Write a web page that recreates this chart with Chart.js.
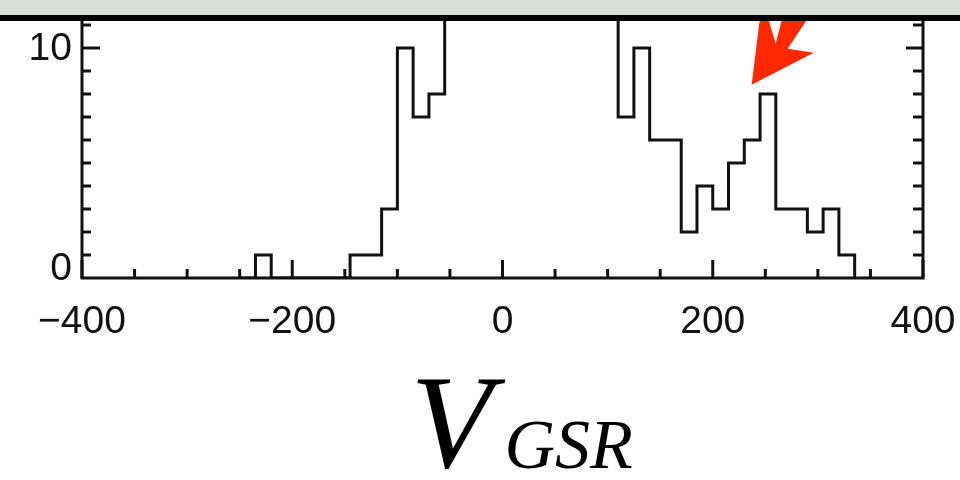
<!DOCTYPE html>
<html>
<head>
<meta charset="utf-8">
<script src="https://cdn.jsdelivr.net/npm/chart.js@4.4.1/dist/chart.umd.min.js"></script>
<style>
  html, body { margin: 0; padding: 0; background: #fff; }
</style>
</head>
<body>
<canvas id="vgsrHist" width="960" height="480"></canvas>
<script>
// histogram of V_GSR, 15 km/s bins: left edge of each bin and its count
const binLeft = [-250, -235, -220, -205, -190, -175, -160, -145, -130, -115,
                 -100, -85, -70, -55, -40, -25, -10, 5, 20, 35,
                 50, 65, 80, 95, 110, 125, 140, 155, 170, 185,
                 200, 215, 230, 245, 260, 275, 290, 305, 320, 335];
const binCount = [0, 1, 0, 0, 0, 0, 0, 1, 1, 3,
                  10, 7, 8, 14, 21, 29, 36, 39, 34, 27,
                  22, 18, 15, 13, 7, 10, 6, 6, 2, 4,
                  3, 5, 6, 8, 3, 3, 2, 3, 1, 0];

const xMajor = [-400, -200, 0, 200, 400];
const xMinor = [-350, -300, -250, -150, -100, -50, 50, 100, 150, 250, 300, 350];
const yLabels = [0, 10];
const yMinor = [1, 2, 3, 4, 5, 6, 7, 8, 9, 11];
const yMajor = [10];

// red arrow pointing at the peak near 250 km/s
const arrowTip = { x: 237, y: 8.4 };

const INK = '#111';
const LABEL_FONT = "'Liberation Sans', Arial, sans-serif";

const frame = {
  id: 'frame',
  afterDatasetsDraw(chart) {
    const { ctx, chartArea: a, scales: { x, y } } = chart;
    ctx.save();

    // axes
    ctx.strokeStyle = INK;
    ctx.lineWidth = 3;
    ctx.lineCap = 'square';
    ctx.beginPath();
    ctx.moveTo(a.left, a.top); ctx.lineTo(a.left, a.bottom); ctx.lineTo(a.right, a.bottom); ctx.lineTo(a.right, a.top);
    ctx.stroke();

    // inward tick marks
    ctx.lineCap = 'butt';
    ctx.beginPath();
    xMajor.forEach(v => { const px = x.getPixelForValue(v); ctx.moveTo(px, a.bottom); ctx.lineTo(px, a.bottom - 18); });
    xMinor.forEach(v => { const px = x.getPixelForValue(v); ctx.moveTo(px, a.bottom); ctx.lineTo(px, a.bottom - 9); });
    yMajor.forEach(v => {
      const py = y.getPixelForValue(v);
      ctx.moveTo(a.left, py); ctx.lineTo(a.left + 18, py);
      ctx.moveTo(a.right, py); ctx.lineTo(a.right - 17, py);
    });
    yMinor.forEach(v => {
      const py = y.getPixelForValue(v);
      ctx.moveTo(a.left, py); ctx.lineTo(a.left + 9, py);
      ctx.moveTo(a.right, py); ctx.lineTo(a.right - 10, py);
    });
    ctx.stroke();

    // y labels, the bottom one sits on the axis
    ctx.fillStyle = INK;
    ctx.font = `39px ${LABEL_FONT}`;
    ctx.textAlign = 'right';
    yLabels.forEach(v => {
      const py = y.getPixelForValue(v);
      if (v === 0) { ctx.textBaseline = 'alphabetic'; ctx.fillText(String(v), a.left - 10, py + 2); }
      else { ctx.textBaseline = 'middle'; ctx.fillText(String(v), a.left - 10, py + 1); }
    });

    // arrow
    const tx = x.getPixelForValue(arrowTip.x), ty = y.getPixelForValue(arrowTip.y);
    const shape = [[0, 0], [9, -72], [15, -72], [24, -41], [32, -72], [60, -72], [36, -36], [62, -32]];
    ctx.fillStyle = 'rgb(255, 40, 0)';
    ctx.beginPath();
    shape.forEach(([dx, dy], i) => i ? ctx.lineTo(tx + dx, ty + dy) : ctx.moveTo(tx + dx, ty + dy));
    ctx.closePath();
    ctx.fill();

    // band above the panel
    ctx.fillStyle = '#dcdedc';
    ctx.fillRect(0, 0, chart.width, 15);
    ctx.fillStyle = '#000';
    ctx.fillRect(0, 15, chart.width, 6);

    // axis title V_GSR
    const cx = (a.left + a.right) / 2;
    ctx.fillStyle = '#000';
    ctx.textAlign = 'left';
    ctx.textBaseline = 'alphabetic';
    ctx.font = "italic 134px 'Liberation Serif', 'Times New Roman', serif";
    ctx.fillText('V', cx - 92, 467);
    ctx.font = "italic 70px 'Liberation Serif', 'Times New Roman', serif";
    ctx.fillText('GSR', cx + 2, 468);

    ctx.restore();
  }
};

const points = binLeft.map((edge, i) => ({ x: edge, y: binCount[i] }));

new Chart(document.getElementById('vgsrHist'), {
  type: 'line',
  data: {
    datasets: [{
      data: points,
      stepped: true,
      borderColor: INK,
      borderWidth: 3,
      pointRadius: 0,
      fill: false,
      clip: 0
    }]
  },
  options: {
    responsive: false,
    animation: false,
    layout: { padding: { top: 16 } },
    plugins: { legend: { display: false }, tooltip: { enabled: false } },
    scales: {
      x: {
        type: 'linear',
        min: -400, max: 400,
        grid: { display: false },
        border: { display: false },
        ticks: {
          stepSize: 200,
          autoSkip: false,
          maxRotation: 0,
          padding: 13,
          color: INK,
          font: { family: LABEL_FONT, size: 39 },
          callback: v => String(v).replace('-', '\u2212')
        },
        afterFit: s => { s.height = 202; s.paddingLeft = 0; s.paddingRight = 0; }
      },
      y: {
        min: 0, max: 11.39,
        grid: { display: false },
        border: { display: false },
        ticks: { display: false },
        afterFit: s => { s.width = 82; }
      },
      yRight: {
        position: 'right',
        min: 0, max: 11.39,
        grid: { display: false },
        border: { display: false },
        ticks: { display: false },
        afterFit: s => { s.width = 37; }
      }
    }
  },
  plugins: [frame]
});
</script>
</body>
</html>
